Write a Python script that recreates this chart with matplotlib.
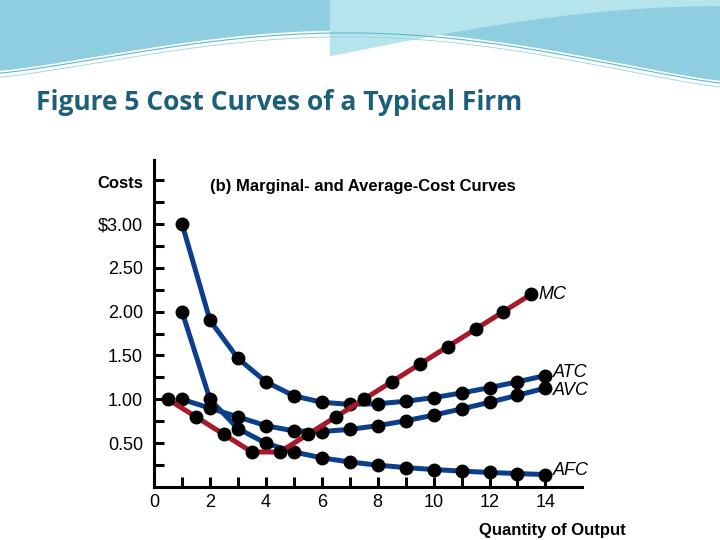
import numpy as np
import matplotlib
matplotlib.use("Agg")
import matplotlib.pyplot as plt

quantity = [1,2,3,4,5,6,7,8,9,10,11,12,13,14]
total_cost = [3.00,3.80,4.40,4.80,5.20,5.80,6.60,7.60,8.80,10.20,11.80,13.60,15.60,17.80]
fixed_cost = 2.00
mc_q = [0.5,1.5,2.5,3.5,4.5,5.5,6.5,7.5,8.5,9.5,10.5,11.5,12.5,13.5]
mc = [1.00,0.80,0.60,0.40,0.40,0.60,0.80,1.00,1.20,1.40,1.60,1.80,2.00,2.20]
atc = [tc/q for tc,q in zip(total_cost,quantity)]
avc = [(tc-fixed_cost)/q for tc,q in zip(total_cost,quantity)]
afc = [fixed_cost/q for q in quantity]
ytick_vals = [0.5,1.0,1.5,2.0,2.5,3.0]
ytick_labels = ["0.50","1.00","1.50","2.00","2.50","$3.00"]
xtick_vals = [0,2,4,6,8,10,12,14]

plt.rcParams['font.family'] = ['Liberation Sans','DejaVu Sans']
fig = plt.figure(figsize=(7.2,5.4), dpi=100)

# decorative background swoosh
bg = fig.add_axes([0,0,1,1], zorder=-10)
bg.set_xlim(0,720); bg.set_ylim(540,0); bg.axis('off')
xs = np.linspace(0,720,200)
top1 = 70 - 45*np.sin(np.pi*xs/720)**1.2 + 10*xs/720
bg.fill_between(xs, 0, top1, color='#8fcde0')
xs2 = np.linspace(330,720,200)
top2 = 55 - 50*np.sin(np.pi*(xs2-330)/780)
bg.fill_between(xs2, 0, top2, color='#b6e4ec')
bg.plot(xs, top1+3, color='#5fb8cc', lw=0.8)
bg.plot(xs, top1+7, color='#9ad3e0', lw=0.6)
bg.text(36,102,"Figure 5 Cost Curves of a Typical Firm", fontsize=19, fontweight='bold',
        color='#1d5f78', family=['Open Sans','DejaVu Sans'], va='center')

ax = fig.add_axes([0.214,0.098,0.594,0.606])
blue = '#0b3f8c'; red = '#a8182b'
kw = dict(lw=3.6, marker='o', ms=9, mfc='black', mec='black', clip_on=False)
ax.plot(quantity, afc, color=blue, **kw)
ax.plot(quantity, avc, color=blue, **kw)
ax.plot(quantity, atc, color=blue, **kw)
ax.plot(mc_q, mc, color=red, **kw)
ax.set_xlim(0,15.3); ax.set_ylim(0,3.73)
for s in ['top','right']: ax.spines[s].set_visible(False)
for s in ['left','bottom']: ax.spines[s].set_linewidth(2.2)
ax.set_yticks(ytick_vals); ax.set_yticklabels(ytick_labels, fontsize=13)
ax.set_yticks(np.arange(0.25,3.6,0.25), minor=True)
ax.set_xticks(xtick_vals); ax.set_xticklabels([str(v) for v in xtick_vals], fontsize=13)
ax.get_xticklabels()[0].set_x(-0.2)
ax.set_xticks(range(1,15), minor=True)
ax.tick_params(axis='both', which='both', direction='in', width=2.2, length=7)
ax.tick_params(axis='y', pad=8)
ax.tick_params(axis='x', pad=5)

ax.text(mc_q[-1]+0.25, mc[-1], "MC", fontsize=13, style='italic', va='center')
ax.text(14.25, atc[-1]+0.04, "ATC", fontsize=13, style='italic', va='center')
ax.text(14.25, avc[-1]-0.03, "AVC", fontsize=13, style='italic', va='center')
ax.text(14.25, afc[-1]+0.05, "AFC", fontsize=13, style='italic', va='center')

fig.text(97/720, 1-184/540, "Costs", fontsize=12, fontweight='bold', va='center')
fig.text(210/720, 1-186/540, "(b) Marginal- and Average-Cost Curves", fontsize=12, fontweight='bold', va='center')
fig.text(626/720, 1-530/540, "Quantity of Output", fontsize=12, fontweight='bold', va='center', ha='right')

fig.savefig("out.png", dpi=100)
